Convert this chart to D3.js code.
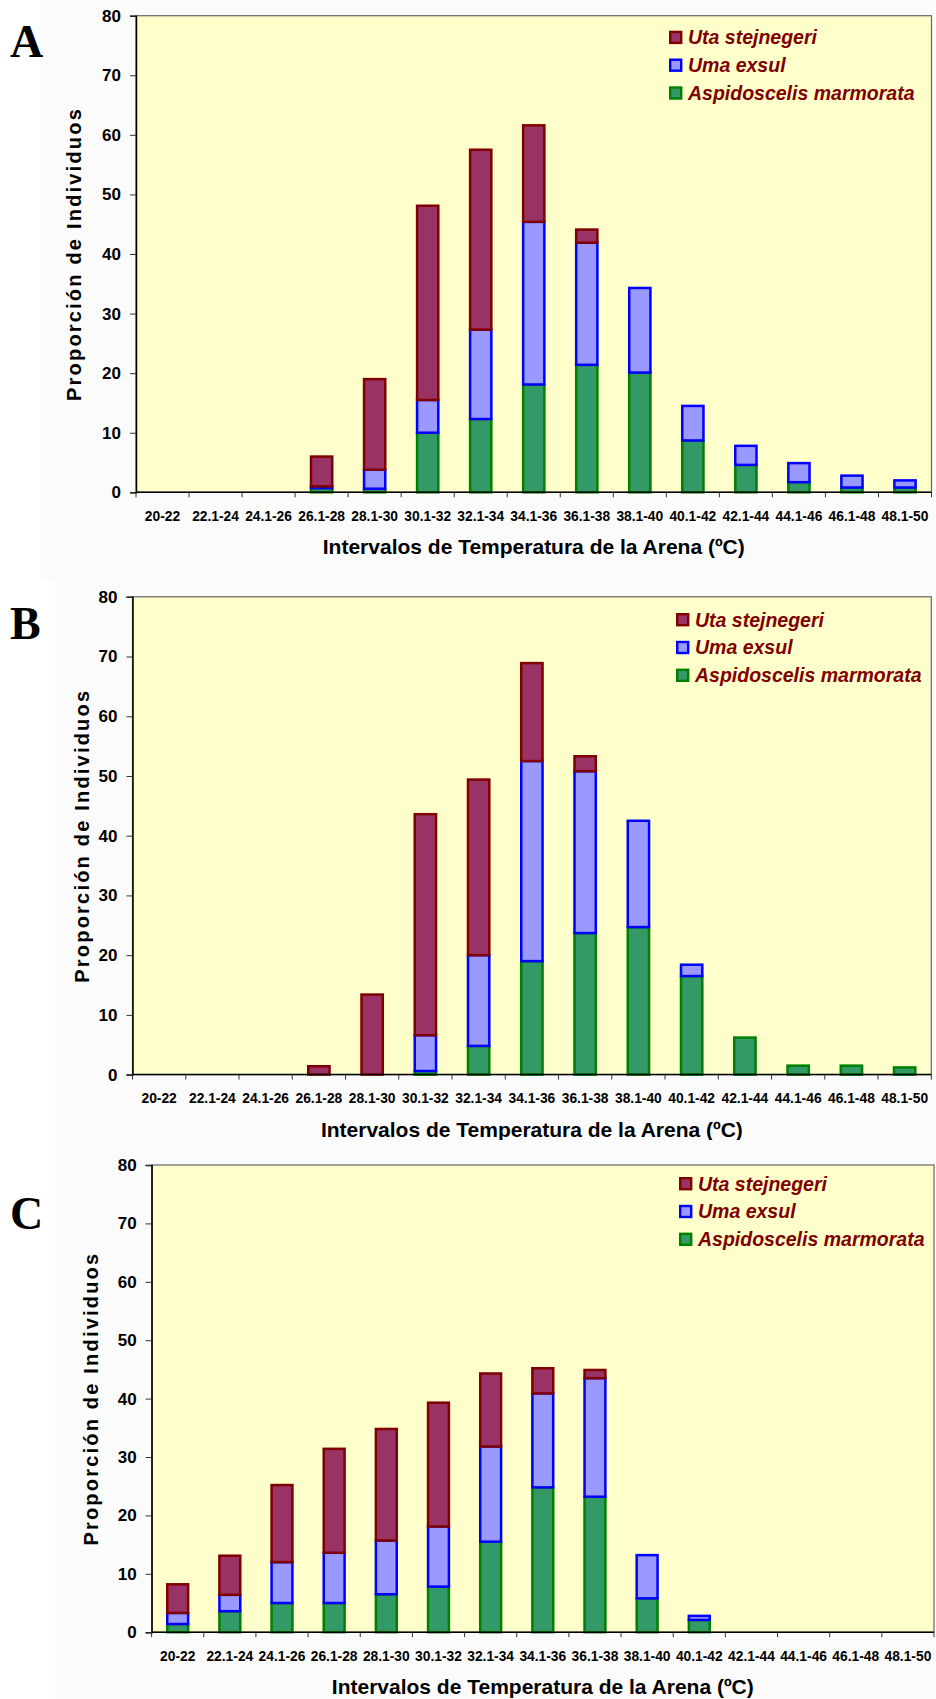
<!DOCTYPE html>
<html>
<head>
<meta charset="utf-8">
<script src="https://cdn.jsdelivr.net/npm/d3@7"></script>
<style>
  body { margin: 0; background: #fff; }
  svg { display: block; }
</style>
</head>
<body>
<svg id="chart" width="936" height="1699"></svg>
<script>
"use strict";

// categorias de temperatura (eje x)
var cats = ["20-22","22.1-24","24.1-26","26.1-28","28.1-30","30.1-32","32.1-34",
            "34.1-36","36.1-38","38.1-40","40.1-42","42.1-44","44.1-46","46.1-48","48.1-50"];
var yTicks = [0,10,20,30,40,50,60,70,80];
var seriesNames = ["Uta stejnegeri","Uma exsul","Aspidoscelis marmorata"];

// panel A
var aspA = [0,0,0,0.7,0.6,10.0,12.3,18.1,21.4,20.1,8.7,4.6,1.7,0.8,0.8];
var umaA = [0,0,0,0.3,3.2,5.5,15.0,27.3,20.5,14.2,5.8,3.2,3.2,2.0,1.2];
var utaA = [0,0,0,5.0,15.2,32.6,30.2,16.2,2.2,0,0,0,0,0,0];
// panel B
var aspB = [0,0,0,0,0,0.6,4.8,19.0,23.7,24.7,16.5,6.2,1.5,1.5,1.2];
var umaB = [0,0,0,0,0,6.0,15.2,33.5,27.1,17.8,1.9,0,0,0,0];
var utaB = [0,0,0,1.4,13.4,37.0,29.4,16.4,2.5,0,0,0,0,0,0];
// panel C
var aspC = [1.4,3.6,5.0,5.0,6.5,7.8,15.5,24.8,23.2,5.8,2.1,0,0,0,0];
var umaC = [1.9,2.8,7.0,8.6,9.2,10.3,16.3,16.1,20.3,7.4,0.7,0,0,0,0];
var utaC = [4.9,6.7,13.2,17.8,19.1,21.2,12.5,4.3,1.4,0,0,0,0,0,0];

var fills   = {asp:"#339966", uma:"#9999FF", uta:"#993366"};
var strokes = {asp:"#008000", uma:"#0000FF", uta:"#800000"};
var legendKeys = ["uta","uma","asp"];

var svg = d3.select("#chart");

var panels = [
  {letter:"A", asp:aspA, uma:umaA, uta:utaA, left:136, right:931.5, top:15.7, bottom:492.3,
   letterY:57, ytX:80.5, legX:669, legY:30.7, bg:[40,0,896,580]},
  {letter:"B", asp:aspB, uma:umaB, uta:utaB, left:132.5, right:931.3, top:596.8, bottom:1074.6,
   letterY:638.6, ytX:88.5, legX:676, legY:613, bg:[55,580,881,560]},
  {letter:"C", asp:aspC, uma:umaC, uta:utaC, left:151.6, right:934, top:1165, bottom:1632.2,
   letterY:1228.5, ytX:97.5, legX:679, legY:1177, bg:[55,1140,881,559]}
];

panels.forEach(drawPanel);

function drawPanel(p) {
	svg.append("rect")
		.attr("x", p.bg[0]).attr("y", p.bg[1])
		.attr("width", p.bg[2]).attr("height", p.bg[3])
		.style("fill", "#fbfbfb");

	var x = d3.scaleBand().domain(cats).range([p.left, p.right])
		.paddingInner(0.6).paddingOuter(0.3);
	var y = d3.scaleLinear().domain([0, 80]).range([p.bottom, p.top]);

	var g = svg.append("g");

	// area de trazado
	g.append("rect")
		.attr("x", p.left).attr("y", p.top)
		.attr("width", p.right - p.left).attr("height", p.bottom - p.top)
		.style("fill", "#FFFFCC")
		.style("stroke", "#666")
		.style("stroke-width", 1.2);

	// barras apiladas
	var rows = cats.map(function(c, i){
		return {cat:c, asp:p.asp[i], uma:p.uma[i], uta:p.uta[i]};
	});
	var stack = d3.stack().keys(["asp","uma","uta"])(rows);
	stack.forEach(function(layer){
		g.append("g").selectAll("rect")
			.data(layer.filter(function(d){ return d[1] - d[0] > 0; }))
		  .enter().append("rect")
			.attr("x", function(d){ return x(d.data.cat); })
			.attr("width", x.bandwidth())
			.attr("y", function(d){ return y(d[1]); })
			.attr("height", function(d){ return y(d[0]) - y(d[1]); })
			.style("fill", fills[layer.key])
			.style("stroke", strokes[layer.key])
			.style("stroke-width", 2.5);
	});

	// eje y
	var yAxis = g.append("g")
		.attr("transform", "translate(" + p.left + ",0)")
		.call(d3.axisLeft(y).tickValues(yTicks).tickSize(6).tickPadding(9).tickFormat(d3.format("d")));
	yAxis.select(".domain").style("stroke", "#000").style("stroke-width", 1.5);
	yAxis.selectAll(".tick line").style("stroke", "#333");
	yAxis.selectAll("text")
		.style("font-family", "'Liberation Sans', Arial, sans-serif")
		.style("font-weight", "bold")
		.style("font-size", "17px")
		.style("fill", "#000");

	// eje x: lineas de division en los limites de cada intervalo
	var edges = d3.range(cats.length + 1).map(function(i){
		return p.left + i * x.step();
	});
	g.append("line")
		.attr("x1", p.left).attr("x2", p.right)
		.attr("y1", p.bottom).attr("y2", p.bottom)
		.style("stroke", "#000").style("stroke-width", 1.5);
	g.selectAll(".xtick").data(edges).enter().append("line")
		.attr("class", "xtick")
		.attr("x1", function(d){ return d; }).attr("x2", function(d){ return d; })
		.attr("y1", p.bottom).attr("y2", p.bottom + 5)
		.style("stroke", "#333").style("stroke-width", 1);
	g.selectAll(".xlab").data(cats).enter().append("text")
		.attr("class", "xlab")
		.attr("x", function(d){ return x(d) + x.bandwidth() / 2; })
		.attr("y", p.bottom + 28.5)
		.attr("text-anchor", "middle")
		.style("font-family", "'Liberation Sans', Arial, sans-serif")
		.style("font-weight", "bold")
		.style("font-size", "13.8px")
		.text(function(d){ return d; });

	// titulos de ejes
	g.append("text")
		.attr("x", (p.left + p.right) / 2)
		.attr("y", p.bottom + 62)
		.attr("text-anchor", "middle")
		.style("font-family", "'Liberation Sans', Arial, sans-serif")
		.style("font-weight", "bold")
		.style("font-size", "21px")
		.text("Intervalos de Temperatura de la Arena (ºC)");
	g.append("text")
		.attr("transform", "translate(" + p.ytX + "," + ((p.top + p.bottom) / 2) + "),rotate(-90)")
		.attr("text-anchor", "middle")
		.style("font-family", "'Liberation Sans', Arial, sans-serif")
		.style("font-weight", "bold")
		.style("font-size", "20px")
		.style("letter-spacing", "2.2px")
		.text("Proporción de Individuos");

	// letra del panel
	g.append("text")
		.attr("x", 10).attr("y", p.letterY)
		.style("font-family", "'Liberation Serif', 'Times New Roman', serif")
		.style("font-weight", "bold")
		.style("font-size", "46px")
		.text(p.letter);

	// leyenda
	var leg = g.append("g").attr("transform", "translate(" + p.legX + "," + p.legY + ")");
	legendKeys.forEach(function(k, i){
		leg.append("rect")
			.attr("x", 1.2).attr("y", i * 27.8 + 1.2)
			.attr("width", 11).attr("height", 11)
			.style("fill", fills[k])
			.style("stroke", strokes[k])
			.style("stroke-width", 2.4);
		leg.append("text")
			.attr("x", 19).attr("y", i * 27.8 + 13.5)
			.style("font-family", "'Liberation Sans', Arial, sans-serif")
			.style("font-weight", "bold")
			.style("font-style", "italic")
			.style("font-size", "19.5px")
			.style("fill", "#800000")
			.text(seriesNames[i]);
	});
}
</script>
</body>
</html>
